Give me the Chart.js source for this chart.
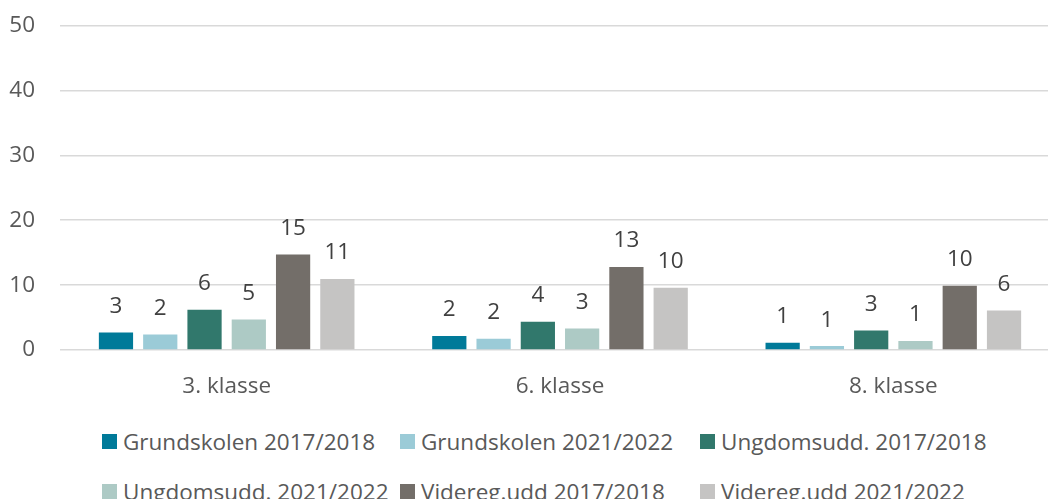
<!DOCTYPE html>
<html>
<head>
<meta charset="utf-8">
<script src="https://cdn.jsdelivr.net/npm/chart.js@4.4.1/dist/chart.umd.min.js"></script>
<style>
  html, body { margin: 0; padding: 0; background: #fff; }
  #wrap { position: relative; width: 1048px; height: 499px; overflow: hidden; }
  #plot { position: absolute; left: 0; top: -13px; width: 1060px; height: 428px; }
  #legend { position: absolute; left: 102px; top: 428px; width: 946px;
            font-family: "Open Sans", sans-serif; font-size: 22.5px; color: #595959;
            display: grid; grid-template-columns: 298px 300px 340px; row-gap: 24px; }
  .item { display: flex; align-items: center; height: 26px; white-space: nowrap; }
  .box { width: 15px; height: 15px; margin-right: 6px; flex: none; }
</style>
</head>
<body>
<div id="wrap">
  <div id="plot"><canvas id="chart"></canvas></div>
  <div id="legend"></div>
</div>
<script>
// kategorier og serier
const klasser = ['3. klasse', '6. klasse', '8. klasse'];
const serieNavn = [
  'Grundskolen 2017/2018', 'Grundskolen 2021/2022', 'Ungdomsudd. 2017/2018',
  'Ungdomsudd. 2021/2022', 'Videreg.udd 2017/2018', 'Videreg.udd 2021/2022'
];
const grund1718 = [2.7, 2.15, 1.1];
const grund2122 = [2.4, 1.75, 0.6];
const ungdom1718 = [6.2, 4.35, 3.0];
const ungdom2122 = [4.7, 3.3, 1.4];
const videreg1718 = [14.7, 12.8, 9.9];
const videreg2122 = [10.95, 9.6, 6.1];
const yTicks = [0, 10, 20, 30, 40, 50];

const farver = ['#007A99', '#9BCBD7', '#31786C', '#ADCAC5', '#736E69', '#C5C4C3'];
const serier = [grund1718, grund2122, ungdom1718, ungdom2122, videreg1718, videreg2122];

const font = { family: '"Open Sans", sans-serif', size: 22.5 };

// tal over søjlerne
const etiketter = {
  id: 'etiketter',
  afterDatasetsDraw(chart) {
    const ctx = chart.ctx;
    ctx.save();
    ctx.font = '22.5px "Open Sans", sans-serif';
    ctx.fillStyle = '#404040';
    ctx.textAlign = 'center';
    ctx.textBaseline = 'middle';
    chart.data.datasets.forEach((ds, i) => {
      chart.getDatasetMeta(i).data.forEach((bar, j) => {
        ctx.fillText(Math.round(ds.data[j]), bar.x, bar.y - 26);
      });
    });
    ctx.restore();
  }
};

const chart = new Chart(document.getElementById('chart'), {
  type: 'bar',
  data: {
    labels: klasser,
    datasets: serier.map((d, i) => ({
      label: serieNavn[i],
      data: d,
      backgroundColor: farver[i],
      categoryPercentage: 0.797,
      barPercentage: 0.773
    }))
  },
  options: {
    responsive: true,
    maintainAspectRatio: false,
    animation: false,
    layout: { padding: { top: 1, right: 0, left: 0, bottom: 0 } },
    plugins: { legend: { display: false }, tooltip: { enabled: false } },
    scales: {
      x: {
        grid: { display: false },
        border: { display: false },
        ticks: { color: '#595959', font: font, padding: 15 }
      },
      y: {
        min: 0, max: 50,
        afterBuildTicks: s => { s.ticks = yTicks.map(v => ({ value: v })); },
        afterFit: s => { s.width = 60; },
        grid: { color: '#D9D9D9', lineWidth: 1.5, drawTicks: false },
        border: { display: false },
        ticks: { color: '#595959', font: font, padding: 25 }
      }
    }
  },
  plugins: [etiketter]
});

// legende under diagrammet
const legend = document.getElementById('legend');
serieNavn.forEach((navn, i) => {
  const el = document.createElement('div');
  el.className = 'item';
  el.innerHTML = '<span class="box" style="background:' + farver[i] + '"></span>' + navn;
  legend.appendChild(el);
});
</script>
</body>
</html>
